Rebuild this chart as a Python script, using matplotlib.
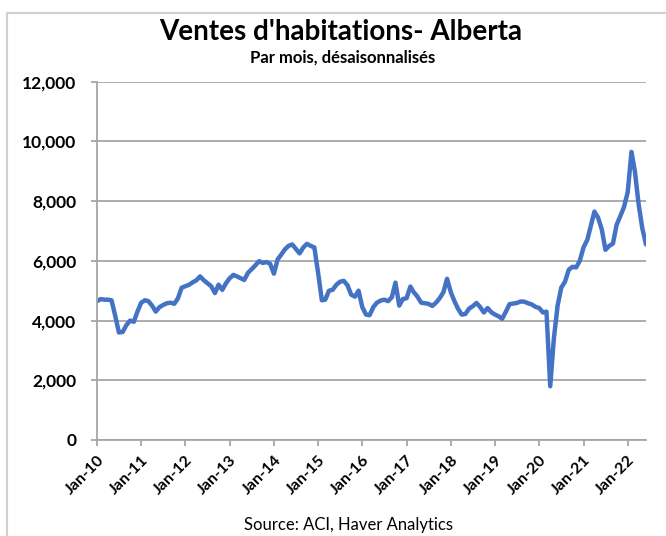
import matplotlib
matplotlib.use('Agg')
import matplotlib.pyplot as plt
import matplotlib.dates as mdates
from matplotlib.lines import Line2D
import pandas as pd

plt.rcParams['font.family'] = ['Lato', 'DejaVu Sans']

# Monthly home sales, Alberta, Jan-2010 .. Jun-2022
sales = [
    # 2010
    4650, 4720, 4700, 4700, 4680, 4150, 3600, 3620, 3850, 4000, 3960, 4300,
    # 2011
    4600, 4680, 4650, 4500, 4300, 4450, 4520, 4580, 4600, 4560, 4750, 5100,
    # 2012
    5150, 5200, 5280, 5350, 5480, 5350, 5250, 5150, 4920, 5200, 5030, 5250,
    # 2013
    5420, 5530, 5480, 5420, 5360, 5600, 5720, 5850, 5990, 5930, 5960, 5900,
    # 2014
    5570, 6050, 6200, 6380, 6500, 6550, 6400, 6250, 6450, 6570, 6500, 6450,
    # 2015
    5600, 4680, 4700, 5000, 5030, 5200, 5300, 5330, 5180, 4870, 4800, 5000,
    # 2016
    4450, 4200, 4180, 4450, 4600, 4670, 4700, 4650, 4780, 5270, 4500, 4720,
    # 2017
    4750, 5140, 4950, 4800, 4600, 4580, 4560, 4490, 4600, 4750, 4950, 5400,
    # 2018
    4950, 4640, 4400, 4200, 4220, 4400, 4480, 4590, 4450, 4270, 4420, 4280,
    # 2019
    4200, 4140, 4060, 4300, 4550, 4570, 4590, 4640, 4630, 4580, 4540, 4460,
    # 2020
    4420, 4270, 4300, 1800, 3400, 4500, 5100, 5300, 5700, 5800, 5780, 6000,
    # 2021
    6450, 6700, 7150, 7650, 7450, 7050, 6370, 6500, 6580, 7200, 7500, 7800,
    # 2022
    8300, 9650, 9000, 7900, 7100, 6550,
]
months = pd.date_range('2010-01-01', periods=len(sales), freq='MS')

title = "Ventes d'habitations- Alberta"
subtitle = "Par mois, désaisonnalisés"
source = "Source: ACI, Haver Analytics"
y_ticks = [0, 2000, 4000, 6000, 8000, 10000, 12000]

fig = plt.figure(figsize=(6.66, 5.36), dpi=100)
ax = fig.add_axes([97 / 666, 1 - 440 / 536, (646 - 97) / 666, (440 - 81.7) / 536])

grid_col = '#a6a6a6'
ax.plot(months, sales, color='#4472C4', lw=3.2, solid_joinstyle='round', solid_capstyle='round')

ax.set_ylim(0, 12000)
ax.set_yticks(y_ticks)
ax.set_yticklabels([f'{v:,}' for v in y_ticks], fontsize=12.5, fontweight='bold')
ax.yaxis.grid(True, color=grid_col, lw=1.3)
ax.set_axisbelow(True)

ax.set_xlim(months[0], months[-1])
ax.xaxis.set_major_locator(mdates.YearLocator(1, month=1, day=1))
ax.xaxis.set_major_formatter(mdates.DateFormatter('Jan-%y'))
for lbl in ax.get_xticklabels():
    lbl.set_rotation(45)
    lbl.set_ha('right')
    lbl.set_rotation_mode('anchor')
    lbl.set_fontsize(11.5)
    lbl.set_fontweight('bold')

for s in ['top', 'right']:
    ax.spines[s].set_visible(False)
for s in ['left', 'bottom']:
    ax.spines[s].set_color(grid_col)
    ax.spines[s].set_linewidth(1.3)
ax.tick_params(axis='both', direction='out', length=4.5, width=1.3, color=grid_col)
ax.tick_params(axis='y', pad=10.5)
ax.tick_params(axis='x', pad=5)

fig.text(341 / 666, 1 - 32 / 536, title, ha='center', va='center', fontsize=20, fontweight='bold')
fig.text(343 / 666, 1 - 58 / 536, subtitle, ha='center', va='center', fontsize=12, fontweight='bold')
fig.text(348 / 666, 1 - 525 / 536, source, ha='center', va='center', fontsize=12)

# chart frame (cropped on the right and bottom)
frame_col = '#d0d0d0'
fig.add_artist(Line2D([7 / 666, 7 / 666], [0, 1 - 13 / 536], transform=fig.transFigure, color=frame_col, lw=1.5))
fig.add_artist(Line2D([7 / 666, 1], [1 - 13 / 536, 1 - 13 / 536], transform=fig.transFigure, color=frame_col, lw=1.5))

fig.savefig('out.png', dpi=100)
